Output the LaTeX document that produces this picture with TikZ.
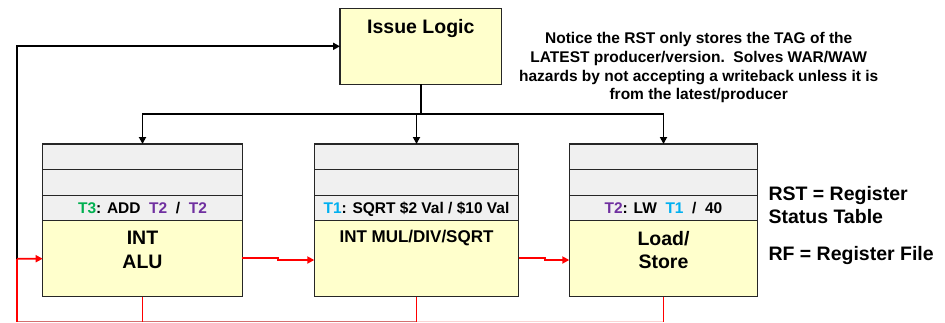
\documentclass[tikz,border=0pt]{standalone}
\usepackage{fontspec}
\setmainfont{Liberation Sans}
\usetikzlibrary{arrows.meta}

\definecolor{unitfill}{HTML}{FFFFCC}
\definecolor{rowfill}{HTML}{F0F0F0}
\definecolor{tgreen}{RGB}{0,176,80}
\definecolor{tpurple}{RGB}{112,48,160}
\definecolor{tblue}{RGB}{0,176,240}
\definecolor{busred}{RGB}{255,0,0}
\definecolor{busdim}{RGB}{212,112,112}
\definecolor{buspink}{RGB}{250,212,212}

% one functional unit: three reservation-station rows above the unit body
% #1 name, #2 left x, #3 width, #4 text of the bottom row
\newcommand{\unitstack}[4]{%
  \node[rowbox, minimum width=#3, anchor=north west] (#1r1) at (#2,144) {};
  \node[rowbox, minimum width=#3, anchor=north] (#1r2) at (#1r1.south) {};
  \node[rowbox, minimum width=#3, anchor=north] (#1r3) at (#1r2.south) {#4};
  \node[unitbox, minimum width=#3, minimum height=76, anchor=north] (#1) at (#1r3.south) {};
}

\begin{document}
\begin{tikzpicture}[x=1pt,y=-1pt,
  rowbox/.style={draw=black!85, line width=1.1pt, fill=rowfill, inner sep=0pt, outer sep=0pt,
    minimum height=25.57, text height=11.1pt, text depth=0pt,
    font=\fontsize{15.5}{18}\selectfont\bfseries},
  unitbox/.style={draw=black!85, line width=1.1pt, fill=unitfill, inner sep=0pt, outer sep=0pt},
  biglabel/.style={font=\fontsize{19.5}{23.3}\selectfont\bfseries, align=center, inner sep=0pt},
  wire/.style={line width=1.8pt, black},
  redwire/.style={line width=1.8pt, busred},
  buswire/.style={line width=1.1pt},
  tip/.style={-{Triangle[length=7pt,width=7pt]}}]

\useasboundingbox (0,0) rectangle (945,322);

% issue logic
\node[unitbox, minimum width=161.7, text height=25.4pt, text depth=50.6pt,
  font=\fontsize{19.5}{23.3}\selectfont\bfseries] (issue) at (420.85,46.3) {Issue Logic};

% functional units with their reservation stations
\unitstack{alu}{42.7}{199.6}{\textcolor{tgreen}{T3}: ADD\ \ \textcolor{tpurple}{T2}\ \ /\ \ \textcolor{tpurple}{T2}}
\unitstack{mul}{314.3}{204.4}{\textcolor{tblue}{T1}: SQRT \$2 Val / \$10 Val}
\unitstack{ls}{569.3}{188.4}{\textcolor{tpurple}{T2}: LW\ \ \textcolor{tblue}{T1}\ \ /\ \ 40}

\node[biglabel, anchor=north] (alut) at ([yshift=-10.6pt]alu.north) {INT\\ALU};
\node[biglabel, anchor=north, font=\fontsize{17}{20}\selectfont\bfseries] (mult) at ([yshift=-9.2pt]mul.north) {INT MUL/DIV/SQRT};
\node[biglabel, anchor=north] (lst) at ([yshift=-10.6pt]ls.north) {Load/\\Store};

% explanatory notes
\node[font=\fontsize{15.5}{18.8}\selectfont\bfseries, align=center, inner sep=0pt, anchor=north]
  (note) at (698.7,32.1) {Notice the RST only stores the TAG of the\\
  LATEST producer/version.\ \ Solves WAR/WAW\\
  hazards by not accepting a writeback unless it is\\
  from the latest/producer};
\node[biglabel, align=left, anchor=north west] (rst) at (768.3,185.7) {RST = Register\\Status Table};
\node[biglabel, align=left, anchor=north west] (rf) at (768.3,245.7) {RF = Register File};

% issue to the reservation stations
\coordinate (split) at (420.85,114);
\draw[wire] (issue.south) -- (split);
\draw[wire, tip] (split) -| (alur1.north);
\draw[wire, tip] (split) -| (mulr1.north);
\draw[wire, tip] (split) -| (lsr1.north);

% result bus along the lower edge and the feedback path
\coordinate (fb) at (17,258.7);
\coordinate (bl) at (17,322);
\coordinate (bus) at (17,321.6);
\draw[buswire, busdim] (bus) -- (mul.south |- bus);
\draw[buswire, buspink] (mul.south |- bus) -- (ls.south |- bus);
\draw[wire, tip] (fb) |- (issue.west);
\draw[redwire] (bl) -- (fb);
\draw[redwire, tip] (fb) -- (alu.west);
\draw[redwire] (alu.south) -- (alu.south |- bl);
\draw[redwire] (mul.south) -- (mul.south |- bl);
\draw[redwire] (ls.south) -- (ls.south |- bl);

% unit to unit
\draw[redwire, tip] ([yshift=0.4pt]alu.east) -- ++(35.7,0) |- ([yshift=-1.3pt]mul.west);
\draw[redwire, tip] ([yshift=0.4pt]mul.east) -- ++(26.3,0) |- ([yshift=-1.3pt]ls.west);
\end{tikzpicture}
\end{document}
